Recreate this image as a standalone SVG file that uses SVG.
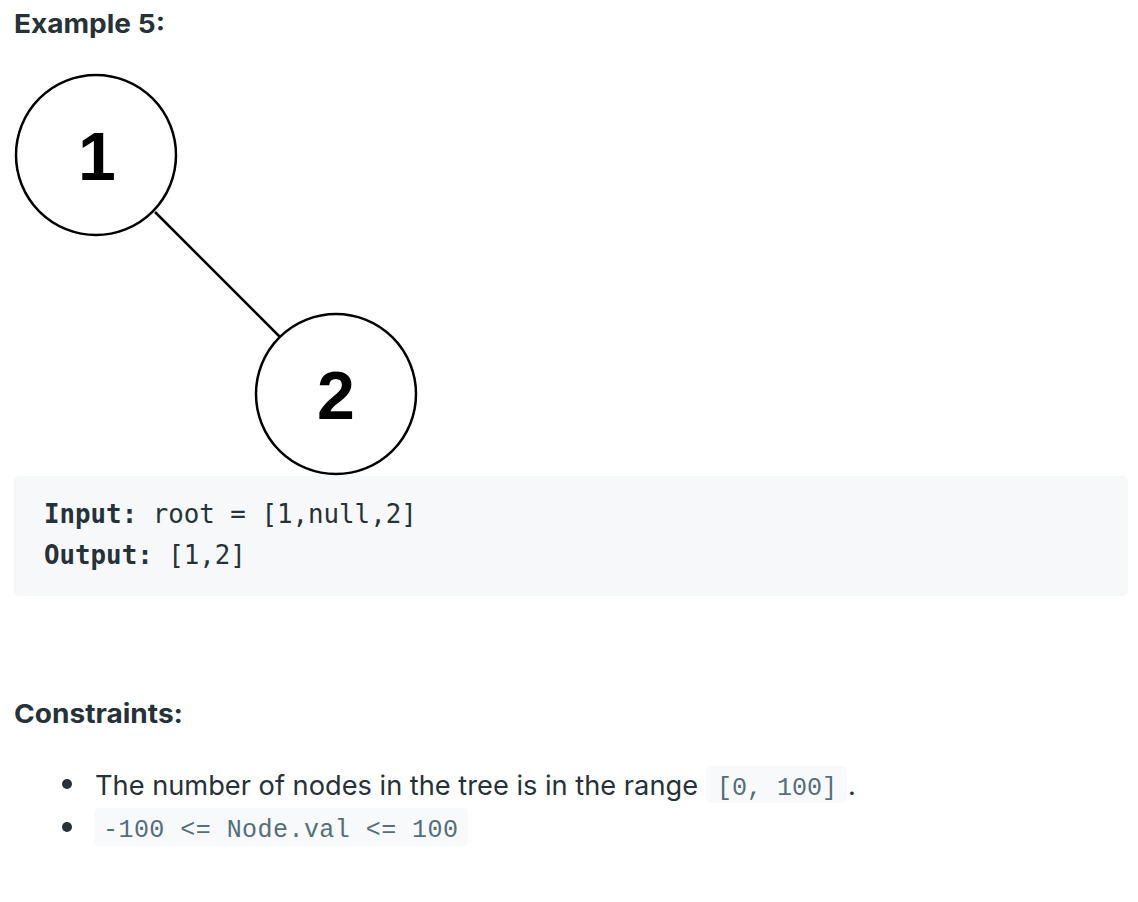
<svg xmlns="http://www.w3.org/2000/svg" width="1138" height="902" viewBox="0 0 1138 902">
<style>
.h{font-family:"Inter","Liberation Sans",sans-serif;font-weight:bold;font-size:26px;fill:#263238}
.node circle{fill:#fff;stroke:#000;stroke-width:2.5}
.node text{font-family:"Liberation Sans",Arial,sans-serif;font-weight:bold;font-size:68px;fill:#000;text-anchor:middle}
.code{font-family:"DejaVu Sans Mono","Liberation Mono",monospace;font-size:25.8px;fill:#263238}
.b{font-weight:bold}
.body{font-family:"Inter","Liberation Sans",sans-serif;font-size:27px;fill:#263238}
.chip{fill:#f7f9fa}
.ct{font-family:"Liberation Mono",monospace;font-size:25px;fill:#546e7a}
</style>
<rect width="1138" height="902" fill="#fff"/>
<text class="h" x="14" y="33" textLength="151" lengthAdjust="spacingAndGlyphs">Example 5:</text>
<g id="connectors">
<line x1="155" y1="212" x2="281" y2="338" stroke="#000" stroke-width="2.5"/>
</g>
<g id="node1" class="node">
<circle cx="96" cy="155" r="80"/>
<text x="97" y="180">1</text>
</g>
<g id="node2" class="node">
<circle cx="336" cy="394" r="80"/>
<text x="336" y="419">2</text>
</g>
<rect x="14" y="476" width="1114" height="120" rx="5" fill="#f7f8fa"/>
<text class="code" x="44" y="523"><tspan class="b">Input:</tspan> root = [1,null,2]</text>
<text class="code" x="44" y="564"><tspan class="b">Output:</tspan> [1,2]</text>
<text class="h" x="14" y="723" textLength="169" lengthAdjust="spacingAndGlyphs">Constraints:</text>
<circle cx="67" cy="784" r="5" fill="#263238"/>
<text class="body" x="95" y="795" textLength="603" lengthAdjust="spacingAndGlyphs">The number of nodes in the tree is in the range</text>
<rect class="chip" x="706" y="766" width="141" height="37" rx="5"/>
<text class="ct" x="717" y="795">[0, 100]</text>
<text class="body" x="848" y="795">.</text>
<circle cx="67" cy="827" r="5" fill="#263238"/>
<rect class="chip" x="94" y="808" width="374" height="38" rx="5"/>
<text class="ct" x="103" y="837" textLength="355">-100 &lt;= Node.val &lt;= 100</text>
</svg>
